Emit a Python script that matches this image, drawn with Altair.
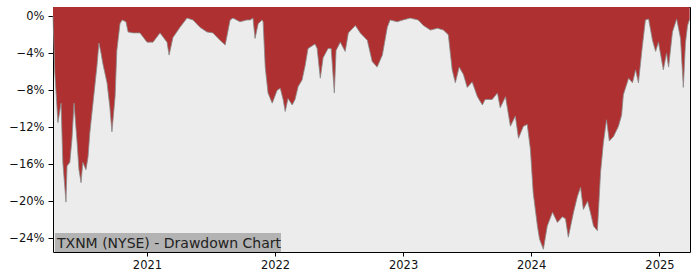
import altair as alt
import pandas as pd

dates = [
    "2020-04-08", "2020-04-13", "2020-04-22", "2020-05-01", "2020-05-06", "2020-05-15",
    "2020-05-18", "2020-05-26", "2020-06-01", "2020-06-07", "2020-06-15", "2020-06-21",
    "2020-06-27", "2020-07-02", "2020-07-11", "2020-07-17", "2020-07-22", "2020-07-31",
    "2020-08-11", "2020-08-17", "2020-08-23", "2020-08-28", "2020-09-09", "2020-09-17",
    "2020-09-23", "2020-10-02", "2020-10-07", "2020-10-16", "2020-10-22", "2020-11-02",
    "2020-11-08", "2020-11-22", "2020-12-12", "2021-01-01", "2021-01-18", "2021-02-07",
    "2021-02-27", "2021-03-05", "2021-03-16", "2021-04-05", "2021-04-25", "2021-05-12",
    "2021-06-01", "2021-06-21", "2021-07-08", "2021-07-28", "2021-08-12", "2021-08-26",
    "2021-09-03", "2021-09-23", "2021-10-13", "2021-10-22", "2021-10-30", "2021-11-05",
    "2021-11-14", "2021-11-25", "2021-11-28", "2021-12-04", "2021-12-12", "2021-12-24",
    "2022-01-07", "2022-01-16", "2022-01-24", "2022-01-30", "2022-02-07", "2022-02-19",
    "2022-02-27", "2022-03-08", "2022-03-19", "2022-03-28", "2022-04-05", "2022-04-25",
    "2022-05-01", "2022-05-10", "2022-05-18", "2022-06-01", "2022-06-10", "2022-06-19",
    "2022-06-24", "2022-07-06", "2022-07-20", "2022-07-29", "2022-08-18", "2022-09-01",
    "2022-09-21", "2022-10-05", "2022-10-19", "2022-11-03", "2022-11-17", "2022-11-25",
    "2022-12-15", "2023-01-01", "2023-01-21", "2023-02-13", "2023-02-28", "2023-03-20",
    "2023-04-09", "2023-04-26", "2023-05-10", "2023-05-21", "2023-05-30", "2023-06-10",
    "2023-06-22", "2023-07-03", "2023-07-17", "2023-08-01", "2023-08-15", "2023-08-23",
    "2023-09-12", "2023-09-27", "2023-10-05", "2023-10-20", "2023-11-03", "2023-11-17",
    "2023-11-26", "2023-12-10", "2023-12-21", "2023-12-30", "2024-01-07", "2024-01-19",
    "2024-01-25", "2024-02-05", "2024-02-16", "2024-03-02", "2024-03-16", "2024-03-30",
    "2024-04-08", "2024-04-16", "2024-05-01", "2024-05-12", "2024-05-21", "2024-05-29",
    "2024-06-10", "2024-06-18", "2024-06-27", "2024-07-08", "2024-07-17", "2024-07-25",
    "2024-08-03", "2024-08-11", "2024-08-23", "2024-09-06", "2024-09-15", "2024-09-20",
    "2024-10-05", "2024-10-16", "2024-10-25", "2024-11-02", "2024-11-13", "2024-11-22",
    "2024-12-01", "2024-12-12", "2024-12-21", "2024-12-29", "2025-01-12", "2025-01-21",
    "2025-01-27", "2025-02-07", "2025-02-19", "2025-03-02", "2025-03-10", "2025-03-16",
    "2025-03-22", "2025-03-28",
]

drawdown_pct = [
    0.0, -6.0, -11.5, -9.4, -15.8, -20.1,
    -16.2, -15.8, -13.3, -9.4, -13.3, -16.6,
    -18.0, -15.8, -16.6, -15.2, -12.6, -9.4,
    -5.5, -2.9, -4.0, -5.1, -7.2, -9.8,
    -12.5, -8.7, -3.7, -0.8, -0.4, -0.6,
    -1.7, -1.8, -1.8, -2.8, -2.8, -1.8,
    -2.8, -4.2, -2.3, -1.2, -0.2, -0.4,
    -1.2, -1.7, -1.8, -2.6, -3.1, -0.4,
    -0.2, -0.6, -0.4, -0.4, -0.2, -2.4,
    -0.8, -0.4, -0.6, -5.5, -8.3, -9.4,
    -8.0, -7.8, -9.0, -10.3, -8.9, -9.6,
    -9.0, -7.6, -6.9, -5.3, -3.5, -3.0,
    -3.5, -6.7, -4.5, -3.5, -3.5, -8.3,
    -3.7, -2.8, -3.8, -1.8, -1.0, -1.8,
    -2.6, -4.9, -5.5, -4.2, -1.2, -0.4,
    -0.6, -0.4, -0.2, -0.4, -1.0, -1.5,
    -1.3, -1.5, -2.0, -5.8, -7.2, -5.5,
    -6.3, -7.7, -7.1, -8.7, -9.6, -9.0,
    -9.0, -8.3, -9.9, -8.7, -11.9, -10.8,
    -13.2, -11.9, -11.7, -14.4, -19.1, -22.7,
    -24.1, -25.2, -22.7, -21.2, -22.3, -21.7,
    -21.9, -23.9, -21.2, -19.5, -18.5, -20.9,
    -20.0, -21.2, -22.7, -23.2, -16.9, -13.7,
    -11.2, -13.5, -13.0, -11.9, -10.7, -8.5,
    -6.7, -7.2, -5.8, -7.2, -3.3, -0.4,
    -0.3, -2.6, -3.8, -2.8, -5.8, -4.0,
    -5.5, -1.7, -0.3, -2.4, -7.7, -2.9,
    -1.0, -0.3,
]

y_ticks = [0, -4, -8, -12, -16, -20, -24]
y_min, y_max = -25.5, 1.0
x_start, x_end = "2020-04-08", "2025-03-29"
title_text = "TXNM (NYSE) - Drawdown Chart"

df = pd.DataFrame({"date": dates, "dd": drawdown_pct})
label_df = pd.DataFrame({"label": [title_text]})

x_enc = alt.X(
    "date:T",
    scale=alt.Scale(domain=[x_start, x_end]),
    axis=alt.Axis(
        values=[alt.DateTime(year=y, month=1, date=1) for y in [2021, 2022, 2023, 2024, 2025]],
        format="%Y", title=None, grid=False, domain=False,
        tickColor="black", tickSize=4, labelFontSize=11.5, labelColor="#111",
        labelPadding=3, labelFont="DejaVu Sans",
    ),
)
y_enc = alt.Y(
    "dd:Q",
    scale=alt.Scale(domain=[y_min, y_max], nice=False, zero=False),
    axis=alt.Axis(
        values=y_ticks, title=None, grid=False, domain=False,
        labelExpr="format(datum.value, '.0f') + '%'",
        tickColor="black", tickSize=5, labelFontSize=11.5, labelColor="#111",
        labelPadding=4, labelFont="DejaVu Sans",
    ),
)

area = alt.Chart(df).mark_area(color="#AF3030", interpolate="linear", opacity=1).encode(
    x=x_enc, y=y_enc, y2=alt.datum(y_max)
)
edge = alt.Chart(df).mark_line(color="#8a8a8a", strokeWidth=0.8).encode(
    x="date:T", y="dd:Q"
)
box = alt.Chart(label_df).mark_rect(color="#B3B3B3").encode(
    x=alt.value(2), x2=alt.value(228), y=alt.value(226), y2=alt.value(245)
)
txt = alt.Chart(label_df).mark_text(
    align="left", baseline="middle", fontSize=14, font="DejaVu Sans", color="#222"
).encode(x=alt.value(4), y=alt.value(236.5), text="label:N")

chart = (
    alt.layer(area, edge, box, txt)
    .properties(
        width=637, height=245,
        autosize=alt.AutoSizeParams(type="none"),
        padding={"left": 53, "top": 7, "right": 10, "bottom": 28},
        background="white",
    )
    .configure_view(fill="#ECECEC", stroke="black", strokeWidth=1)
)

chart.save("out.html", embed_options={"renderer": "svg", "actions": False})
